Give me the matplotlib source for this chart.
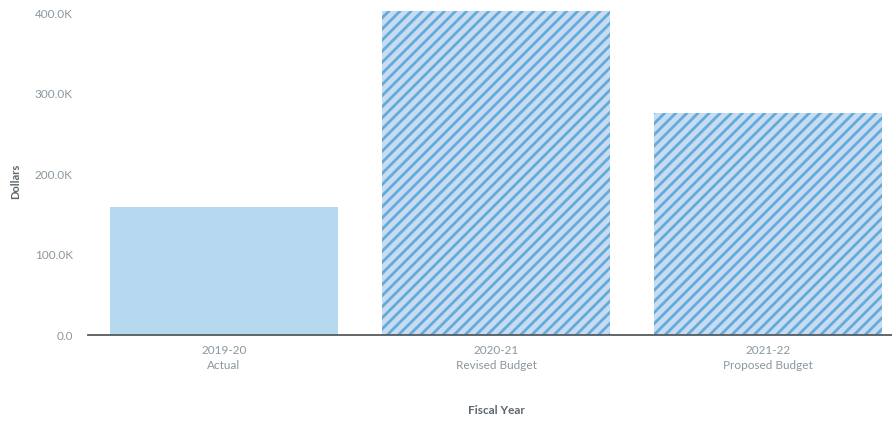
import matplotlib.pyplot as plt
import numpy as np

# Fiscal year spending, in dollars
years = ['2019-20', '2020-21', '2021-22']
stages = ['Actual', 'Revised Budget', 'Proposed Budget']
amounts = [159000, 402000, 276000]
hatched = [False, True, True]

plt.rcParams['font.family'] = ['Lato', 'DejaVu Sans']
plt.rcParams['hatch.linewidth'] = 2.0
plt.rcParams['hatch.color'] = '#66aad9'

fig = plt.figure(figsize=(8.92, 4.24), dpi=100)
ax = fig.add_axes([88 / 892, 1 - 335 / 424, 1 - 88 / 892, 334 / 424])

x = np.arange(len(years))
for i in range(len(years)):
    if hatched[i]:
        ax.bar(x[i], amounts[i], width=0.84, color='#c6dcf2', hatch='///',
               edgecolor='#66aad9', linewidth=0)
    else:
        ax.bar(x[i], amounts[i], width=0.84, color='#b6d9f0', linewidth=0)

ax.set_xlim(-0.5, 2.456)
ax.set_ylim(0, 415000)
ax.set_yticks([0, 100000, 200000, 300000, 400000])
ax.set_yticklabels(['0.0', '100.0K', '200.0K', '300.0K', '400.0K'])
ax.set_xticks(x)
ax.set_xticklabels([y + '\n' + s for y, s in zip(years, stages)], linespacing=1.45)

ax.tick_params(axis='both', length=0, labelsize=8.5, labelcolor='#8a979f')
ax.tick_params(axis='x', pad=7)
ax.tick_params(axis='y', pad=11)

for side in ['top', 'right', 'left']:
    ax.spines[side].set_visible(False)
ax.spines['bottom'].set_color('#555b60')
ax.spines['bottom'].set_linewidth(1.3)

fig.text(16 / 892, 1 - 181 / 424, 'Dollars', rotation=90, ha='center', va='center',
         fontsize=8, color='#5d666c', fontweight='bold')
fig.text(496 / 892, 1 - 411 / 424, 'Fiscal Year', ha='center', va='center',
         fontsize=8.5, color='#5d666c', fontweight='bold')

plt.savefig('out.png', dpi=100)
